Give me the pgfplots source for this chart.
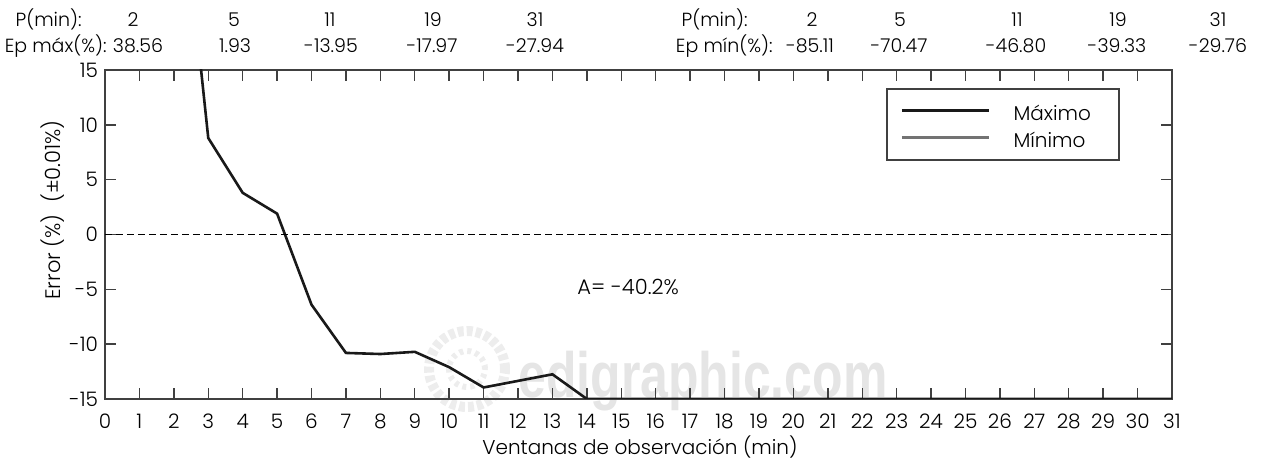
\documentclass[border=0pt]{standalone}
\usepackage{fontspec}
\IfFontExistsTF{Poppins Light}{\setmainfont{Poppins Light}[Numbers=Monospaced]}{\setmainfont{Poppins}[Numbers=Monospaced]}
\newfontfamily\wmfont{Liberation Sans}
\usepackage{pgfplots}
\pgfplotsset{compat=1.18}
\begin{document}
\begin{tikzpicture}[font=\fontsize{9.5}{11}\selectfont]
\path[use as bounding box] (-52.5pt,-30.5pt) rectangle (580.5pt,199.5pt);
\draw[black!7, line width=5pt, dash pattern=on 3pt off 1.5pt] (181pt,15pt) circle (19pt);
\draw[black!7, line width=3pt, dash pattern=on 2pt off 2pt] (181pt,15pt) circle (9pt);
\node[font=\wmfont\bfseries\fontsize{32}{32}\selectfont, text=black!10, anchor=base, xscale=0.78, inner sep=0pt] at (299pt,0.5pt) {edigraphic.com};
\begin{axis}[
  scale only axis, width=533.5pt, height=164.5pt,
  at={(0pt,0pt)}, anchor=south west,
  xmin=0, xmax=31, ymin=-15, ymax=15,
  xtick={0,...,31}, ytick={-15,-10,...,15},
  tick align=inside, major tick length=5.5pt,
  /pgf/number format/assume math mode=true,
  tick label style={font=\fontsize{10}{12}\selectfont},
  axis line style={black!75, line width=0.8pt},
  tick style={black!75, line width=0.7pt},
  xticklabel style={yshift=-4pt},
  clip mode=individual,
  legend image code/.code={\draw[#1] (0pt,2.5pt) -- (43.5pt,2.5pt);},
  legend cell align=left,
  legend style={draw=none, fill=none, inner sep=0pt, row sep=4.5pt,
    at={(axis description cs:0.745,0.891)}, anchor=north west,
    nodes={inner xsep=0pt, inner ysep=0pt, text height=7pt, text depth=2pt, font=\fontsize{10}{12}\selectfont},
    /tikz/every odd column/.append style={column sep=11.5pt}},
]
\addplot[black!90, line width=1.3pt] coordinates {
  (2,38.56) (3,8.8) (4,3.8) (5,1.9) (6,-6.4) (7,-10.8) (8,-10.9) (9,-10.7)
  (10,-12.1) (11,-13.95) (12,-13.35) (13,-12.75) (14,-15) (19,-15) (31,-15)};
\addlegendentry{Máximo}
\addplot[black!55, line width=1.6pt] coordinates {
  (2,-85.11) (5,-70.47) (11,-46.80) (19,-39.33) (31,-29.76)};
\addlegendentry{Mínimo}
\addplot[forget plot, black, line width=0.5pt, dash pattern=on 3.5pt off 2pt] coordinates {(0,0) (31,0)};
\node[font=\fontsize{10.5}{12}\selectfont] at (axis cs:15.2,-4.8) {A=\ -40.2\%};
\end{axis}
\draw[black!75, line width=0.7pt] (391pt,119.5pt) rectangle (507pt,155pt);
% header left
\node[anchor=base east, inner sep=0pt] at (-11.5pt,186pt) {P(min):};
\foreach \x/\t in {14/2, 64.5/5, 112.5/11, 164/19, 215/31}
  \node[anchor=base, inner sep=0pt] at (\x pt,186pt) {\t};
\node[anchor=base east, inner sep=0pt] at (1pt,173pt) {Ep máx(\%):};
\foreach \x/\t in {16.5/38.56, 65/1.93, 113/-13.95, 163.5/-17.97, 215/-27.94}
  \node[anchor=base, inner sep=0pt] at (\x pt,173pt) {\t};
% header right
\node[anchor=base east, inner sep=0pt] at (321.5pt,186pt) {P(min):};
\foreach \x/\t in {353.5/2, 397.5/5, 456/11, 506.5/19, 556.5/31}
  \node[anchor=base, inner sep=0pt] at (\x pt,186pt) {\t};
\node[anchor=base east, inner sep=0pt] at (334pt,173pt) {Ep mín(\%):};
\foreach \x/\t in {352.5/-85.11, 397/-70.47, 455.5/-46.80, 506/-39.33, 556.5/-29.76}
  \node[anchor=base, inner sep=0pt] at (\x pt,173pt) {\t};
% axis labels
\node[anchor=base, inner sep=0pt, font=\fontsize{10}{12}\selectfont] at (267.5pt,-28pt) {Ventanas de observación (min)};
\node[rotate=90, anchor=center, inner sep=0pt, font=\fontsize{10.5}{12}\selectfont] at (-26.25pt,94.5pt) {Error (\%)\ \ (±0.01\%)};
\end{tikzpicture}
\end{document}
